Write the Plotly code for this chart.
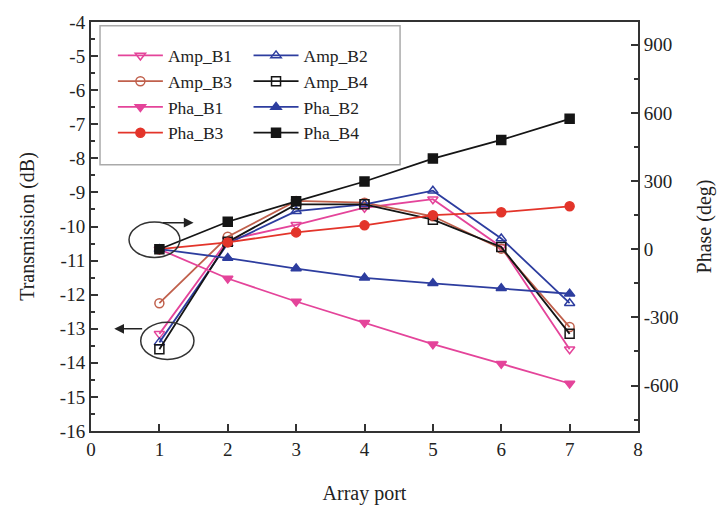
import plotly.graph_objects as go

ports = [1, 2, 3, 4, 5, 6, 7]

amp_b1 = [-13.15, -10.4, -9.95, -9.45, -9.2, -10.6, -13.6]
amp_b2 = [-13.4, -10.5, -9.55, -9.35, -8.95, -10.35, -12.25]
amp_b3 = [-12.25, -10.3, -9.25, -9.3, -9.7, -10.65, -12.95]
amp_b4 = [-13.6, -10.45, -9.35, -9.35, -9.8, -10.6, -13.15]

pha_b1 = [0, -129, -230, -324, -418, -504, -591]
pha_b2 = [0, -39, -85, -126, -150, -172, -196]
pha_b3 = [0, 30, 74, 105, 150, 163, 189]
pha_b4 = [0, 121, 211, 298, 399, 481, 574]

x_ticks = [0, 1, 2, 3, 4, 5, 6, 7, 8]
x_ticktext = ["0", "1", "2", "3", "4", "5", "6", "7", "8"]
y_ticks = [-4, -5, -6, -7, -8, -9, -10, -11, -12, -13, -14, -15, -16]
y_ticktext = ["-4", "-5", "-6", "-7", "-8", "-9", "-10", "-11", "-12", "-13", "-14", "-15", "-16"]
y2_ticks = [900, 600, 300, 0, -300, -600]
y2_ticktext = ["900", "600", "300", "0", "-300", "-600"]

PINK = "#E4449A"
BLUE = "#2D3D9F"
BROWN = "#C0604C"
RED = "#E3342A"
BLACK = "#151515"
FONT = "Liberation Serif"

fig = go.Figure()

def add(name, y, color, symbol, axis, legend):
    fig.add_trace(go.Scatter(
        x=ports, y=y, name=name, mode="lines+markers",
        line=dict(color=color, width=1.8),
        marker=dict(symbol=symbol, size=9, color=color,
                    line=dict(color=color, width=1.5)),
        yaxis=axis, legend=legend,
    ))

# column 1 of the legend
add("Amp_B1", amp_b1, PINK, "triangle-down-open", "y", "legend")
add("Amp_B3", amp_b3, BROWN, "circle-open", "y", "legend")
# column 2
add("Amp_B2", amp_b2, BLUE, "triangle-up-open", "y", "legend2")
add("Amp_B4", amp_b4, BLACK, "square-open", "y", "legend2")
add("Pha_B1", pha_b1, PINK, "triangle-down", "y2", "legend")
add("Pha_B3", pha_b3, RED, "circle", "y2", "legend")
add("Pha_B2", pha_b2, BLUE, "triangle-up", "y2", "legend2")
add("Pha_B4", pha_b4, BLACK, "square", "y2", "legend2")

axis_common = dict(
    showline=True, linecolor="#333333", linewidth=2,
    ticks="inside", ticklen=7, tickwidth=1.5, tickcolor="#333333",
    showgrid=False, zeroline=False,
    tickfont=dict(family=FONT, size=19, color="#222222"),
)

fig.update_layout(
    width=724, height=513,
    margin=dict(l=91, r=86, t=18, b=80),
    paper_bgcolor="white", plot_bgcolor="white",
    font=dict(family=FONT, size=19, color="#222222"),
    xaxis=dict(range=[0, 8], tickvals=x_ticks, ticktext=x_ticktext,
               mirror=True,
               title=dict(text="Array port", font=dict(family=FONT, size=20), standoff=27),
               **axis_common),
    yaxis=dict(range=[-16, -4], tickvals=y_ticks, ticktext=y_ticktext,
               minor=dict(dtick=0.5, ticks="inside", ticklen=4, tickcolor="#333333"),
               title=dict(text="Transmission (dB)", font=dict(family=FONT, size=20), standoff=20),
               **axis_common),
    yaxis2=dict(range=[-800, 1000], tickvals=y2_ticks, ticktext=y2_ticktext,
                overlaying="y", side="right",
                minor=dict(dtick=150, ticks="inside", ticklen=4, tickcolor="#333333"),
                title=dict(text="Phase (deg)", font=dict(family=FONT, size=20), standoff=19),
                **axis_common),
    legend=dict(x=0.04, y=0.962, xanchor="left", yanchor="top",
                bgcolor="rgba(0,0,0,0)", borderwidth=0,
                font=dict(family=FONT, size=17.5), itemwidth=45, tracegroupgap=0),
    legend2=dict(x=0.288, y=0.962, xanchor="left", yanchor="top",
                 bgcolor="rgba(0,0,0,0)", borderwidth=0,
                 font=dict(family=FONT, size=17.5), itemwidth=45, tracegroupgap=0),
    showlegend=True,
)

# legend frame
fig.add_shape(type="rect", xref="paper", yref="paper",
              x0=0.0165, x1=0.565, y0=0.651, y1=0.991,
              line=dict(color="#AAAAAA", width=1.5), fillcolor="rgba(0,0,0,0)")

# ellipses marking the port-1 starting points
fig.add_shape(type="circle", xref="x", yref="y",
              x0=0.556, x1=1.30, y0=-10.91, y1=-9.87,
              line=dict(color="#333333", width=1.5))
fig.add_shape(type="circle", xref="x", yref="y",
              x0=0.727, x1=1.506, y0=-13.90, y1=-12.81,
              line=dict(color="#333333", width=1.5))

# arrows
fig.add_annotation(x=1.50, y=-9.887, ax=1.03, ay=-9.887,
                   xref="x", yref="y", axref="x", ayref="y",
                   text="", showarrow=True, arrowhead=2, arrowsize=1.3,
                   arrowwidth=1.5, arrowcolor="#222222")
fig.add_annotation(x=0.34, y=-13.0, ax=0.77, ay=-13.0,
                   xref="x", yref="y", axref="x", ayref="y",
                   text="", showarrow=True, arrowhead=2, arrowsize=1.3,
                   arrowwidth=1.5, arrowcolor="#222222")

fig.write_html("out.html")
